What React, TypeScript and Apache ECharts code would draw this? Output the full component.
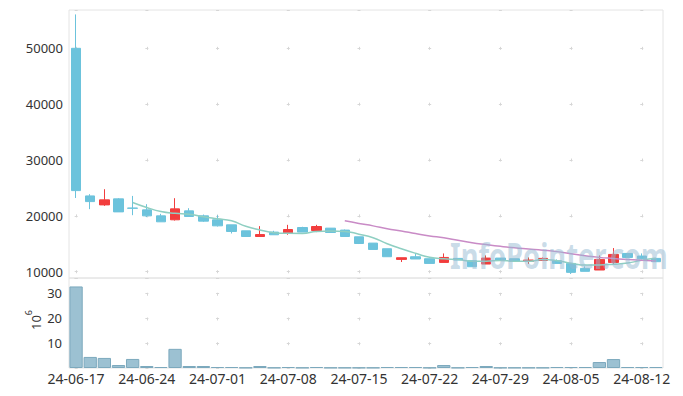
import React, { useEffect, useRef } from 'react';
import * as echarts from 'echarts';

const dates = [
  '24-06-17', '24-06-18', '24-06-19', '24-06-20', '24-06-21',
  '24-06-24', '24-06-25', '24-06-26', '24-06-27', '24-06-28',
  '24-07-01', '24-07-02', '24-07-03', '24-07-04', '24-07-05',
  '24-07-08', '24-07-09', '24-07-10', '24-07-11', '24-07-12',
  '24-07-15', '24-07-16', '24-07-17', '24-07-18', '24-07-19',
  '24-07-22', '24-07-23', '24-07-24', '24-07-25', '24-07-26',
  '24-07-29', '24-07-30', '24-07-31', '24-08-01', '24-08-02',
  '24-08-05', '24-08-06', '24-08-07', '24-08-08', '24-08-09',
  '24-08-12', '24-08-13',
];

const opens = [
  50000, 23570, 21960, 23040, 21400, 21070, 20000, 19290, 20890, 20000,
  19290, 18390, 17320, 16300, 17090, 16960, 17910, 17380, 17800, 17450,
  16250, 15120, 14110, 12200, 12680, 12320, 11660, 12380, 11960, 11370,
  12440, 12320, 11840, 12020, 11960, 11480, 10590, 10300, 11660, 13270,
  12800, 12380,
];
const closes = [
  24520, 22550, 22860, 20710, 21350, 20000, 18930, 21250, 19880, 19050,
  18210, 17200, 16300, 16650, 16610, 17550, 17090, 18090, 17020, 16300,
  15050, 13980, 12680, 12500, 12270, 11480, 12550, 12090, 10890, 12440,
  12090, 11840, 12090, 12380, 11480, 9880, 10060, 12200, 13090, 12550,
  12320, 11790,
];
const lows = [
  23200, 21200, 21790, 20710, 20120, 19770, 18930, 19160, 19880, 18930,
  18090, 16840, 16300, 16250, 16610, 16610, 17090, 17090, 17020, 16300,
  14950, 13980, 12680, 11730, 12270, 11480, 11660, 12090, 10890, 11370,
  12090, 11840, 11370, 12020, 11480, 9590, 10060, 10300, 11370, 12550,
  12200, 11790,
];
const highs = [
  56070, 23880, 24770, 23160, 23570, 22090, 20360, 23160, 21370, 20230,
  20120, 18390, 17320, 18160, 17320, 18390, 18040, 18390, 17800, 17550,
  16250, 15120, 14110, 12500, 13270, 12320, 13270, 12380, 11960, 12910,
  12440, 12320, 12550, 12550, 12200, 11480, 10950, 12910, 14230, 13270,
  13270, 12380,
];
// volume in millions of shares
const volumes = [
  32.8, 4.45, 4.05, 1.2, 3.64, 0.8, 0.4, 7.7, 0.8, 0.8,
  0.4, 0.4, 0.15, 0.8, 0.15, 0.4, 0.15, 0.4, 0.15, 0.15,
  0.15, 0.15, 0.4, 0.4, 0.4, 0.15, 1.2, 0.15, 0.4, 0.8,
  0.15, 0.15, 0.15, 0.15, 0.4, 0.4, 0.4, 2.4, 3.6, 0.4,
  0.4, 0.4,
];

const UP = '#f23d3d';
const DOWN = '#6cc3dc';
const MA5_COLOR = '#8fcfc2';
const MA20_COLOR = '#c98bc6';
const FONT = '"Noto Sans", sans-serif';

function movingAverage(values: number[], n: number): (number | string)[] {
  return values.map((_, i) => {
    if (i < n - 1) return '-';
    let s = 0;
    for (let k = i - n + 1; k <= i; k++) s += values[k];
    return s / n;
  });
}

export default function App() {
  const ref = useRef<HTMLDivElement>(null);
  useEffect(() => {
    if (!ref.current) return;
    const chart = echarts.init(ref.current, null, { renderer: 'svg' });
    const candles = dates.map((_, i) => [opens[i], closes[i], lows[i], highs[i]]);
    const crossColor = '#d6d6d6';
    const option = {
      animation: false,
      textStyle: { fontFamily: FONT },
      grid: [
        { left: 69, right: 20, top: 10, height: 268, show: true, borderColor: '#e4e4e4', borderWidth: 1 },
        { left: 69, right: 20, top: 278, height: 90, show: true, borderColor: '#e4e4e4', borderWidth: 1 },
      ],
      xAxis: [
        {
          type: 'category', data: dates, gridIndex: 0, boundaryGap: true,
          axisLine: { show: false }, axisTick: { show: false }, axisLabel: { show: false },
          splitLine: {
            show: true, interval: 4, alignWithLabel: true,
            lineStyle: { color: crossColor, width: 1, type: [3, 52.85], dashOffset: 19.05 },
          },
        },
        {
          type: 'category', data: dates, gridIndex: 1, boundaryGap: true,
          axisLine: { show: false }, axisTick: { show: false },
          axisLabel: { interval: 4, margin: 3, fontSize: 14, color: '#333', fontFamily: FONT },
          splitLine: {
            show: true, interval: 4, alignWithLabel: true,
            lineStyle: { color: crossColor, width: 1, type: [3, 21.75], dashOffset: 10.45 },
          },
        },
      ],
      yAxis: [
        {
          type: 'value', gridIndex: 0, min: 8870, max: 56860,
          axisLine: { show: false }, axisTick: { show: false },
          axisLabel: {
            showMinLabel: false, showMaxLabel: false, margin: 6, fontSize: 13, color: '#333', fontFamily: FONT,
            formatter: (v: number) => String(Math.round(v)),
          },
          splitLine: { lineStyle: { color: crossColor, width: 1, type: [3, 67.7], dashOffset: 65.13 } },
        },
        {
          type: 'value', gridIndex: 1, min: 0, max: 36.2, interval: 10,
          axisLine: { show: false }, axisTick: { show: false },
          axisLabel: { showMinLabel: false, showMaxLabel: false, margin: 7, fontSize: 13, color: '#333', fontFamily: FONT },
          splitLine: { lineStyle: { color: crossColor, width: 1, type: [3, 67.7], dashOffset: 65.13 } },
        },
      ],
      series: [
        {
          type: 'candlestick', name: 'price', xAxisIndex: 0, yAxisIndex: 0, data: candles, barWidth: 10,
          itemStyle: { color: UP, color0: DOWN, borderColor: UP, borderColor0: DOWN, borderWidth: 1 },
        },
        {
          type: 'line', name: 'MA5', xAxisIndex: 0, yAxisIndex: 0, data: movingAverage(closes, 5),
          smooth: true, showSymbol: false, lineStyle: { color: MA5_COLOR, width: 1.5 },
        },
        {
          type: 'line', name: 'MA20', xAxisIndex: 0, yAxisIndex: 0, data: movingAverage(closes, 20),
          smooth: true, showSymbol: false, lineStyle: { color: MA20_COLOR, width: 1.5 },
        },
        {
          type: 'bar', name: 'volume', xAxisIndex: 1, yAxisIndex: 1, data: volumes, barCategoryGap: '6%',
          itemStyle: { color: '#9cc1d2', borderColor: '#7ca9bd', borderWidth: 1 },
        },
      ],
      graphic: [
        {
          type: 'text', x: 33, y: 320, rotation: Math.PI / 2, silent: true,
          style: {
            text: '{a|10}{b|6}', align: 'center', verticalAlign: 'middle',
            rich: {
              a: { fontSize: 13, fill: '#333', fontFamily: FONT, lineHeight: 18, verticalAlign: 'bottom' },
              b: { fontSize: 9, fill: '#333', fontFamily: FONT, lineHeight: 18, verticalAlign: 'top' },
            },
          },
        },
        {
          type: 'text', x: 450, y: 255, scaleX: 0.76, z: 100, silent: true,
          style: {
            text: 'InfoPointer.com', fill: 'rgba(150,185,210,0.5)',
            font: 'bold 36px "Noto Sans", sans-serif', verticalAlign: 'middle', align: 'left',
          },
        },
      ],
    };
    chart.setOption(option as any);
    return () => chart.dispose();
  }, []);
  return <div ref={ref} style={{ width: 683, height: 396, position: 'absolute', left: 0, top: 0 }} />;
}
